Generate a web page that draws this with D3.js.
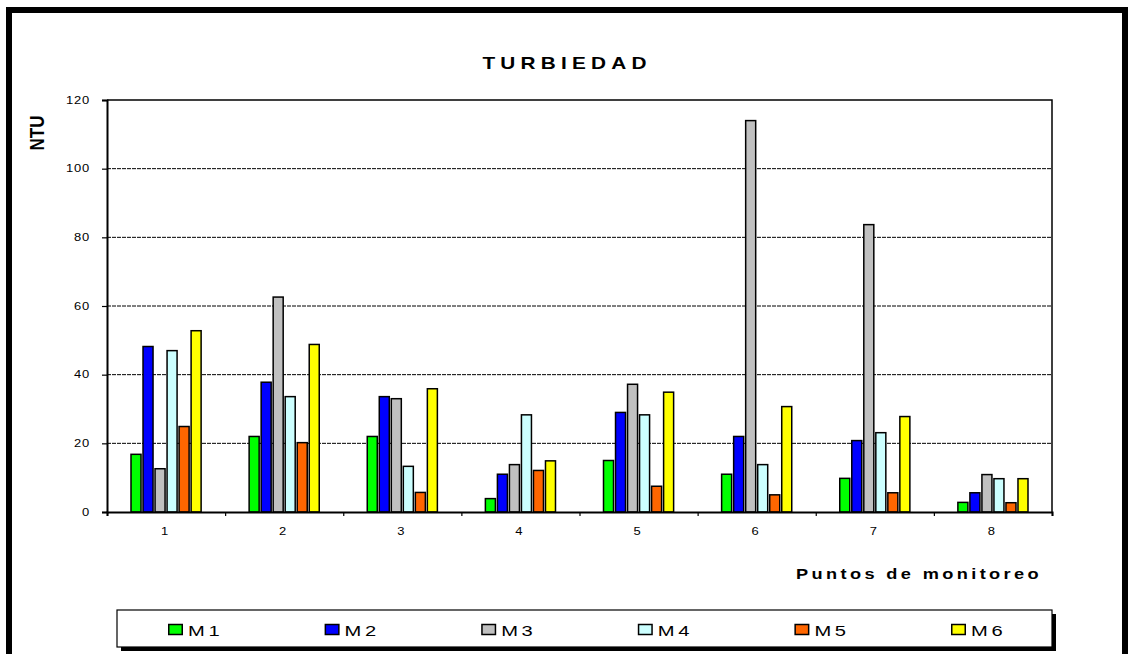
<!DOCTYPE html>
<html>
<head>
<meta charset="utf-8">
<script src="https://cdn.jsdelivr.net/npm/d3@7"></script>
<style>
  html, body { margin: 0; padding: 0; background: #fff; }
  svg { display: block; }
  text { font-family: "Liberation Sans", Arial, sans-serif; fill: #000; }
</style>
</head>
<body>
<svg id="chart" width="1130" height="654"></svg>
<script>
// ---- data ----
const categories = ["1", "2", "3", "4", "5", "6", "7", "8"];
const seriesNames = ["M1", "M2", "M3", "M4", "M5", "M6"];
const seriesColors = ["#00FF00", "#0000FF", "#C0C0C0", "#CCFFFF", "#FF6600", "#FFFF00"];
const m1 = [16.8, 22, 22, 3.9, 15, 11, 9.8, 2.8];
const m2 = [48.2, 37.8, 33.6, 11, 29, 22, 20.8, 5.6];
const m3 = [12.6, 62.6, 33, 13.8, 37.2, 114, 83.7, 10.9];
const m4 = [47, 33.6, 13.3, 28.3, 28.3, 13.8, 23.1, 9.7];
const m5 = [24.9, 20.2, 5.7, 12.1, 7.5, 5.0, 5.6, 2.7];
const m6 = [52.8, 48.8, 35.9, 14.9, 34.9, 30.7, 27.8, 9.7];
const yTicks = [0, 20, 40, 60, 80, 100, 120];
const titleText = "TURBIEDAD";
const yTitle = "NTU";
const xTitle = "Puntos de monitoreo";

const seriesValues = [m1, m2, m3, m4, m5, m6];
const rows = [];
categories.forEach((c, ci) => {
  seriesNames.forEach((s, si) => rows.push({cat: c, series: s, value: seriesValues[si][ci], color: seriesColors[si]}));
});

// ---- layout ----
const SX = 1.3; // horizontal stretch of text
const plot = {left: 107, right: 1052, top: 100, bottom: 512};
const svg = d3.select("#chart");

// outer frame
svg.append("rect").attr("x", 9).attr("y", 10).attr("width", 1116).attr("height", 660)
  .attr("fill", "#fff").attr("stroke", "#000").attr("stroke-width", 6);

const x0 = d3.scaleBand().domain(categories).range([plot.left, plot.right])
  .paddingInner(0.4064).paddingOuter(0.2032);
const x1 = d3.scaleBand().domain(seriesNames).range([0, x0.bandwidth()]).paddingInner(1 / 6);
const y = d3.scaleLinear().domain([0, 120]).range([plot.bottom, plot.top]);
const xb = d3.scaleLinear().domain([0, categories.length]).range([plot.left, plot.right]);

// gridlines
svg.append("g").selectAll("line").data(yTicks.filter(t => t > 0 && t < 120)).join("line")
  .attr("x1", plot.left).attr("x2", plot.right)
  .attr("y1", d => y(d)).attr("y2", d => y(d))
  .attr("stroke", "#000").attr("stroke-width", 1).attr("stroke-dasharray", "4,1");

// plot border (top/right)
svg.append("path")
  .attr("d", `M${plot.left},${y(120)}H${plot.right}V${plot.bottom}`)
  .attr("fill", "none").attr("stroke", "#000").attr("stroke-width", 1.5);

// bars
svg.append("g").selectAll("rect").data(rows).join("rect")
  .attr("x", d => x0(d.cat) + x1(d.series))
  .attr("width", x1.bandwidth())
  .attr("y", d => y(d.value))
  .attr("height", d => y(0) - y(d.value))
  .attr("fill", d => d.color)
  .attr("stroke", "#000").attr("stroke-width", 1.5);

// y axis
const yAxis = svg.append("g").attr("transform", `translate(${plot.left},0)`)
  .call(d3.axisLeft(y).tickValues(yTicks).tickSize(5).tickPadding(12).tickFormat(d3.format("d")));
yAxis.select(".domain").attr("stroke-width", 2);
yAxis.selectAll(".tick line").attr("stroke-width", 1.2);
yAxis.selectAll("text")
  .attr("font-size", 10).attr("letter-spacing", 0.6)
  .attr("font-family", "Liberation Sans, Arial, sans-serif")
  .attr("x", -17 / SX).attr("transform", `scale(${SX},1)`);

// x axis boundary ticks
const xTickAxis = svg.append("g").attr("transform", `translate(0,${plot.bottom})`)
  .call(d3.axisBottom(xb).ticks(categories.length).tickSize(4).tickFormat(""));
xTickAxis.select(".domain").attr("stroke-width", 2);
xTickAxis.selectAll(".tick line").attr("stroke-width", 1.2);

// x category labels
const xLab = svg.append("g").attr("transform", `translate(0,${plot.bottom})`)
  .call(d3.axisBottom(x0).tickSize(0).tickPadding(16));
xLab.select(".domain").remove();
xLab.selectAll(".tick").each(function () {
  const t = d3.select(this);
  const tr = t.attr("transform");
  const m = /translate\(([-\d.]+),([-\d.]+)\)/.exec(tr);
  t.attr("transform", `translate(${+m[1] - 1.5},${m[2]})`);
});
xLab.selectAll("text").attr("font-size", 10)
  .attr("font-family", "Liberation Sans, Arial, sans-serif")
  .attr("transform", `scale(${SX},1)`);

// title
svg.append("text").attr("transform", `translate(567,69) scale(${SX},1)`)
  .attr("text-anchor", "middle").attr("font-weight", "bold").attr("font-size", 16)
  .attr("letter-spacing", 4).text(titleText);

// y title
svg.append("text").attr("transform", `translate(37,133) scale(1.2,1) rotate(-90)`)
  .attr("text-anchor", "middle").attr("dy", "0.36em").attr("font-weight", "bold").attr("font-size", 17)
  .text(yTitle);

// x title
svg.append("text").attr("transform", `translate(796,579) scale(${SX},1)`)
  .attr("text-anchor", "start").attr("font-weight", "bold").attr("font-size", 14)
  .attr("letter-spacing", 2.6).text(xTitle);

// legend
const leg = {x: 117, y: 610, w: 935, h: 37};
svg.append("rect").attr("x", leg.x + 4).attr("y", leg.y + 4).attr("width", leg.w).attr("height", leg.h)
  .attr("fill", "#000");
svg.append("rect").attr("x", leg.x).attr("y", leg.y).attr("width", leg.w).attr("height", leg.h)
  .attr("fill", "#fff").attr("stroke", "#000").attr("stroke-width", 1.2);
const lx = d3.scalePoint().domain(seriesNames).range([168, 951]);
const items = svg.append("g").selectAll("g").data(seriesNames).join("g")
  .attr("transform", d => `translate(${lx(d)},0)`);
items.append("rect").attr("x", 0.75).attr("y", 624.5).attr("width", 13.5).attr("height", 10)
  .attr("fill", (d, i) => seriesColors[i]).attr("stroke", "#000").attr("stroke-width", 1.5);
items.append("text").attr("transform", `translate(20,636) scale(${SX},1)`)
  .attr("font-size", 15.5).attr("letter-spacing", 2.8).text(d => d);
</script>
</body>
</html>
